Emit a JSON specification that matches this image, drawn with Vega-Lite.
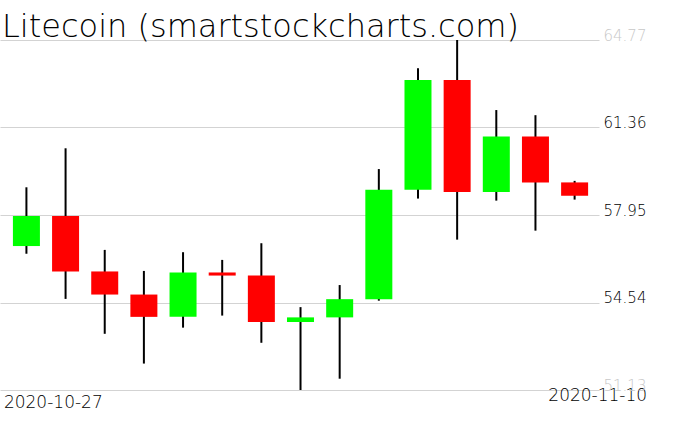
{
  "$schema": "https://vega.github.io/schema/vega-lite/v6.json",
  "width": 599,
  "height": 350,
  "autosize": {"type": "none"},
  "padding": {"left": 0, "top": 40, "right": 77, "bottom": 41},
  "background": "white",
  "title": {
    "text": "Litecoin (smartstockcharts.com)",
    "anchor": "start",
    "frame": "group",
    "font": "DejaVu Sans",
    "fontSize": 32,
    "fontWeight": 200,
    "color": "black",
    "baseline": "alphabetic",
    "dx": 2,
    "offset": -41
  },
  "config": {
    "view": {"stroke": null},
    "axis": {"labelFont": "DejaVu Sans", "labelFontWeight": 300}
  },
  "data": {
    "values": [
      {"date": "2020-10-27", "open": 56.74, "high": 59.03, "low": 56.44, "close": 57.91},
      {"date": "2020-10-28", "open": 57.91, "high": 60.55, "low": 54.68, "close": 55.75},
      {"date": "2020-10-29", "open": 55.75, "high": 56.59, "low": 53.32, "close": 54.85},
      {"date": "2020-10-30", "open": 54.85, "high": 55.77, "low": 52.16, "close": 53.98},
      {"date": "2020-10-31", "open": 53.98, "high": 56.50, "low": 53.56, "close": 55.71},
      {"date": "2020-11-01", "open": 55.71, "high": 56.20, "low": 54.03, "close": 55.59},
      {"date": "2020-11-02", "open": 55.59, "high": 56.85, "low": 52.97, "close": 53.78},
      {"date": "2020-11-03", "open": 53.78, "high": 54.36, "low": 51.13, "close": 53.96},
      {"date": "2020-11-04", "open": 53.96, "high": 55.22, "low": 51.57, "close": 54.67},
      {"date": "2020-11-05", "open": 54.67, "high": 59.74, "low": 54.61, "close": 58.93},
      {"date": "2020-11-06", "open": 58.93, "high": 63.67, "low": 58.59, "close": 63.21},
      {"date": "2020-11-07", "open": 63.21, "high": 64.77, "low": 56.99, "close": 58.85},
      {"date": "2020-11-08", "open": 58.85, "high": 62.04, "low": 58.51, "close": 61.01},
      {"date": "2020-11-09", "open": 61.01, "high": 61.84, "low": 57.34, "close": 59.22},
      {"date": "2020-11-10", "open": 59.22, "high": 59.28, "low": 58.55, "close": 58.70}
    ]
  },
  "encoding": {
    "x": {
      "field": "date",
      "type": "ordinal",
      "sort": null,
      "scale": {"type": "point", "padding": 0.6487, "align": 0.52},
      "axis": {
        "title": null,
        "values": ["2020-10-27", "2020-11-10"],
        "labelAngle": 0,
        "domain": false,
        "ticks": false,
        "grid": false,
        "labelFontSize": 17,
        "labelColor": "black",
        "labelBaseline": "top",
        "labelAlign": {"condition": {"test": "datum.value == '2020-10-27'", "value": "left"}, "value": "right"},
        "labelOffset": {"condition": {"test": "datum.value == '2020-10-27'", "value": -23}, "value": 72},
        "labelPadding": {"condition": {"test": "datum.value == '2020-10-27'", "value": 4}, "value": -3}
      }
    },
    "y": {
      "type": "quantitative",
      "scale": {"domain": [51.13, 64.77], "nice": false, "zero": false},
      "axis": {
        "orient": "right",
        "title": null,
        "values": [51.13, 54.54, 57.95, 61.36, 64.77],
        "format": ".2f",
        "domain": false,
        "ticks": false,
        "grid": true,
        "gridColor": "#d3d3d3",
        "gridWidth": 1,
        "labelPadding": 4,
        "labelFontSize": 15,
        "labelBaseline": "alphabetic",
        "labelColor": {"condition": {"test": "datum.value > 64 || datum.value < 52", "value": "#c8c8c8"}, "value": "black"}
      }
    }
  },
  "layer": [
    {
      "mark": {"type": "rule", "color": "black", "strokeWidth": 2},
      "encoding": {
        "y": {"field": "low", "type": "quantitative"},
        "y2": {"field": "high"}
      }
    },
    {
      "mark": {"type": "bar", "size": 27},
      "encoding": {
        "y": {"field": "open", "type": "quantitative"},
        "y2": {"field": "close"},
        "color": {
          "condition": {"test": "datum.close >= datum.open", "value": "#00ff00"},
          "value": "#ff0000"
        }
      }
    }
  ]
}
